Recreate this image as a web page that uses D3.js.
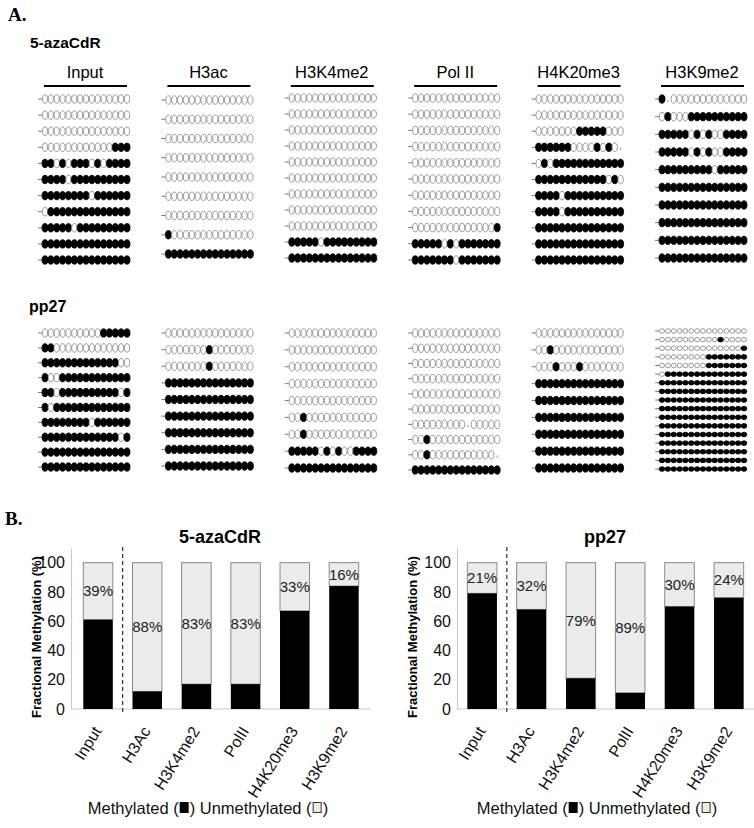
<!DOCTYPE html>
<html><head><meta charset="utf-8">
<script src="https://cdn.jsdelivr.net/npm/d3@7"></script>
<style>
body{margin:0;background:#fff;}
svg{font-family:"Liberation Sans",Arial,sans-serif;display:block;}
</style></head><body>
<svg id="c" width="754" height="828"></svg>
<script>
// ---------- Panel A data (1 = methylated, 0 = unmethylated, . = no site) ----------
const columns = ["Input","H3ac","H3K4me2","Pol II","H4K20me3","H3K9me2"];

const azaInput = [
"000000000000000","000000000000000","000000000000000","000000000000111",
"110101110101111","111101111111111","111111110111111","011111111111111",
"111110111111111","111111111111111","111111111111111"];
const azaH3ac = [
"000000000000000","000000000000000","000000000000000","000000000000000",
"000000000000000","000000000000000","000000000000000","100000000000000",
"111111111111111"];
const azaH3K4me2 = [
"000000000000000","000000000000000","000000000000000","000000000000000",
"000000000000000","000000000000000","000000000000000","000000000000000",
"000000000000000","111110111111111","111111111111111"];
const azaPolII = [
"000000000000000","000000000000000","000000000000000","000000000000000",
"000000000000000","000000000000000","000000000000000","000000000000000",
"000000000000001","111110101111111","111111101111111"];
const azaH4K20me3 = [
"000000000000000","000000000000000","000000011111000","11111100001010.",
"010111111111111","111111111111010","111101111111111","111101111111111",
"111111111111111","111111111111111","111111111111111"];
const azaH3K9me2 = [
"1.0000000000000","010001111111111","111110101001111","111110101001111",
"111111111011111","111111111111111","111111111111111","111111111111111",
"111111111111111","111111111111111"];

const ppInput = [
"000000000011111","110000000000000","111111111111100","100111111111111",
"110111111111101","101111111111111","111111110111111","111111111111101",
"111111111111111","111111111111111"];
const ppH3ac = [
"000000000000000","000000010000000","000000010000000","111111111111111",
"111111111111111","111111111111111","111111111111111","111111111111111",
"111111111111111"];
const ppH3K4me2 = [
"000000000000000","000000000000000","000000000000000","000000000000000",
"000000000000000","001000000000000","001000000000000","111110101001111",
"111111111111111"];
const ppPolII = [
"000000000000000","000000000000000","000000000000000","000000000000000",
"000000000000000","000000000000000","000000000.00000","001000000000000",
"00100000000000.","111111111111111"];
const ppH4K20me3 = [
"000000000000000","001000000000000","000100010000000","111111111111111",
"111111111111111","111111111111111","111111111111111","111111111111111",
"111111111111111"];
const ppH3K9me2 = [
"000000000000000","000000000010000","000000000000001","000000001111111",
"000000001111111","011111111111111","111111111111111","111111111111111",
"111111111111111","111111111111111","111111111111111","111111111111111",
"111111111111111","111111111111111","111111111111111","111111111111111",
"111111111111111"];

// ---------- Panel B data ----------
const barCats = ["Input","H3Ac","H3K4me2","PolII","H4K20me3","H3K9me2"];
const azaUnmeth = [39,88,83,83,33,16];
const ppUnmeth  = [21,32,79,89,30,24];
const yTicks = [0,20,40,60,80,100];

const svg = d3.select("#c");

// ---------- Panel A ----------
svg.append("text").attr("x",8).attr("y",21).text("A.")
  .attr("font-family","'Liberation Serif','Times New Roman',serif").attr("font-weight","bold").attr("font-size",19);
svg.append("text").attr("x",30).attr("y",48).text("5-azaCdR").attr("font-weight","bold").attr("font-size",15.5);
svg.append("text").attr("x",29).attr("y",312).text("pp27").attr("font-weight","bold").attr("font-size",16);

const colX = d3.scalePoint().domain(columns).range([85,702]);

const hdr = svg.append("g");
columns.forEach(c=>{
  hdr.append("text").attr("x",colX(c)).attr("y",78).attr("text-anchor","middle")
    .attr("font-size",16.5).text(c);
  hdr.append("line").attr("x1",colX(c)-41).attr("x2",colX(c)+42).attr("y1",86).attr("y2",86)
    .attr("stroke","#000").attr("stroke-width",2);
});

function drawRows(rows, col, yRange, shape){
  const cx = colX(col);
  const x = d3.scaleLinear().domain([0,14]).range([cx-40, cx+42]);
  const y = d3.scalePoint().domain(d3.range(rows.length)).range(yRange);
  const g = svg.append("g");
  const rg = g.selectAll("g").data(rows).join("g")
    .attr("transform",(d,i)=>`translate(0,${y(i)})`);
  rg.append("line").attr("x1",x(0)-shape.rx-4).attr("x2",x(0)-shape.rx)
    .attr("y1",0).attr("y2",0).attr("stroke","#777").attr("stroke-width",1);
  rg.selectAll("ellipse").data(d=>d.split("").map((v,j)=>({v,j})).filter(o=>o.v!=="."))
    .join("ellipse")
    .attr("cx",o=>x(o.j)).attr("cy",0)
    .attr("rx",o=>o.v==="1"?shape.rx:shape.rx-0.4).attr("ry",shape.ry)
    .attr("fill",o=>o.v==="1"?"#000":"#fff")
    .attr("stroke",o=>o.v==="1"?"#000":"#808080").attr("stroke-width",0.8);
  rg.selectAll("line.tick").data(d=>d.split("").map((v,j)=>({v,j})).filter(o=>o.v==="."))
    .join("line").attr("class","tick")
    .attr("x1",o=>x(o.j)).attr("x2",o=>x(o.j)).attr("y1",0.5).attr("y2",3)
    .attr("stroke","#777").attr("stroke-width",0.8);
}
const big = {rx:3, ry:4.2};
const small = {rx:2.8, ry:2.3};
drawRows(azaInput,"Input",[99,260],big);
drawRows(azaH3ac,"H3ac",[100,254],big);
drawRows(azaH3K4me2,"H3K4me2",[98,258],big);
drawRows(azaPolII,"Pol II",[98,260],big);
drawRows(azaH4K20me3,"H4K20me3",[99,260],big);
drawRows(azaH3K9me2,"H3K9me2",[99,258],big);

drawRows(ppInput,"Input",[333,467],big);
drawRows(ppH3ac,"H3ac",[333,466],big);
drawRows(ppH3K4me2,"H3K4me2",[333,468],big);
drawRows(ppPolII,"Pol II",[333,470],big);
drawRows(ppH4K20me3,"H4K20me3",[333,468],big);
drawRows(ppH3K9me2,"H3K9me2",[331,469],small);

// ---------- Panel B ----------
svg.append("text").attr("x",5).attr("y",525).text("B.")
  .attr("font-family","'Liberation Serif','Times New Roman',serif").attr("font-weight","bold").attr("font-size",19);

function drawBars(cfg){
  const g = svg.append("g");
  const y = d3.scaleLinear().domain([0,110]).range([709,548]);
  const x = d3.scaleBand().domain(barCats).range(cfg.xRange).paddingInner(0.4).paddingOuter(0.25);

  // title
  g.append("text").attr("x",cfg.titleX).attr("y",543).attr("text-anchor","middle")
    .attr("font-weight","bold").attr("font-size",18).text(cfg.title);

  // y axis
  const ya = g.append("g").attr("transform",`translate(${cfg.axisX},0)`)
    .call(d3.axisLeft(y).tickValues(yTicks).tickSize(0).tickPadding(6));
  ya.select(".domain").attr("stroke","#c8c8c8");
  ya.selectAll("text").attr("font-size",16).attr("font-family","'Liberation Sans',Arial,sans-serif").attr("fill","#111");

  // y label
  g.append("text").attr("transform",`translate(${cfg.labelX},637) rotate(-90)`)
    .attr("text-anchor","middle").attr("font-weight","bold").attr("font-size",13)
    .text("Fractional Methylation (%)");

  // x axis line
  g.append("line").attr("x1",cfg.axisX).attr("x2",cfg.xRange[1]).attr("y1",y(0)).attr("y2",y(0))
    .attr("stroke","#c8c8c8");

  // dashed separator
  const sep = (x(barCats[0])+x.bandwidth()+x(barCats[1]))/2;
  g.append("line").attr("x1",sep).attr("x2",sep).attr("y1",547).attr("y2",714)
    .attr("stroke","#333").attr("stroke-width",1.2).attr("stroke-dasharray","4,3");

  const data = barCats.map((c,i)=>({c,u:cfg.unmeth[i],m:100-cfg.unmeth[i]}));
  // unmethylated (gray) segment
  g.selectAll("rect.un").data(data).join("rect").attr("class","un")
    .attr("x",d=>x(d.c)).attr("width",x.bandwidth())
    .attr("y",y(100)).attr("height",d=>y(d.m)-y(100))
    .attr("fill","#ebebeb").attr("stroke","#8a8a8a").attr("stroke-width",1);
  // methylated (black) segment
  g.selectAll("rect.me").data(data).join("rect").attr("class","me")
    .attr("x",d=>x(d.c)).attr("width",x.bandwidth())
    .attr("y",d=>y(d.m)).attr("height",d=>y(0)-y(d.m))
    .attr("fill","#000");
  // percentage labels
  g.selectAll("text.pct").data(data).join("text").attr("class","pct")
    .attr("x",d=>x(d.c)+x.bandwidth()/2).attr("y",d=>y(d.m+d.u/2))
    .attr("dy","0.35em").attr("text-anchor","middle").attr("font-size",15).attr("fill","#222")
    .text(d=>d.u+"%");
  // x tick labels
  g.selectAll("text.xl").data(barCats).join("text").attr("class","xl")
    .attr("transform",c=>`translate(${x(c)+x.bandwidth()/2+4},731) rotate(-58)`)
    .attr("text-anchor","end").attr("font-size",16).attr("fill","#111").text(c=>c);

  // legend
  const lg = g.append("g").attr("font-size",16.5).attr("fill","#111");
  const t1 = lg.append("text").attr("y",814).text("Methylated (");
  const w1 = t1.node().getComputedTextLength();
  const sq = 9, gap = 1;
  const t2 = lg.append("text").attr("y",814).text(") Unmethylated (");
  const w2 = t2.node().getComputedTextLength();
  const t3 = lg.append("text").attr("y",814).text(")");
  const w3 = t3.node().getComputedTextLength();
  const total = w1 + gap + sq + gap + w2 + gap + sq + gap + w3;
  let x0 = cfg.legendX - total/2;
  t1.attr("x",x0); x0 += w1 + gap;
  lg.append("rect").attr("x",x0).attr("y",802).attr("width",sq).attr("height",11).attr("fill","#000");
  x0 += sq + gap;
  t2.attr("x",x0); x0 += w2 + gap;
  lg.append("rect").attr("x",x0+0.5).attr("y",802.5).attr("width",sq-1).attr("height",10)
    .attr("fill","#ebebe0").attr("stroke","#333").attr("stroke-width",1);
  x0 += sq + gap;
  t3.attr("x",x0);
}

drawBars({title:"5-azaCdR", unmeth:azaUnmeth, axisX:71, xRange:[71,371], titleX:220, labelX:41, legendX:208});
drawBars({title:"pp27", unmeth:ppUnmeth, axisX:457, xRange:[455,756], titleX:605, labelX:417, legendX:597});
</script>
</body></html>
